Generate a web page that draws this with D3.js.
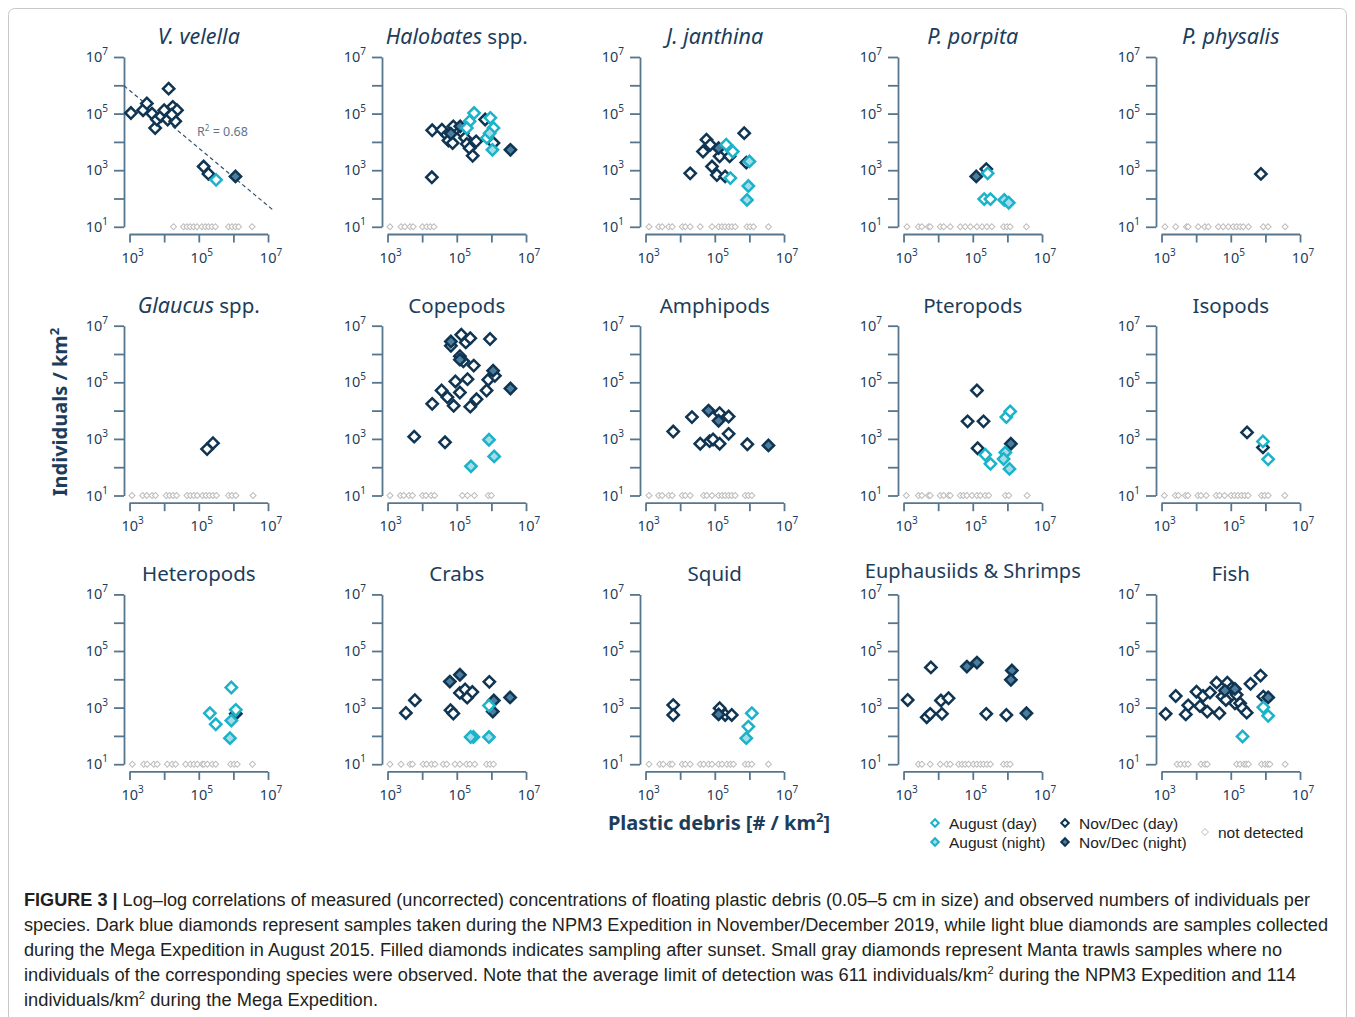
<!DOCTYPE html>
<html><head><meta charset="utf-8">
<script src="https://cdn.jsdelivr.net/npm/d3@7"></script>
<style>body{margin:0;background:#fff}svg{display:block}</style>
</head><body>
<svg id="c" width="1355" height="1017"></svg>
<script>
// ---------- DATA (values stored as log10 exponents: [log10 plastic, log10 individuals]) ----------
const titles = [
  [["V. velella", true]],
  [["Halobates", true], [" spp.", false]],
  [["J. janthina", true]],
  [["P. porpita", true]],
  [["P. physalis", true]],
  [["Glaucus", true], [" spp.", false]],
  [["Copepods", false]],
  [["Amphipods", false]],
  [["Pteropods", false]],
  [["Isopods", false]],
  [["Heteropods", false]],
  [["Crabs", false]],
  [["Squid", false]],
  [["Euphausiids & Shrimps", false]],
  [["Fish", false]]
];
const xTickExps = [3, 4, 5, 6, 7];
const xLabelExps = [3, 5, 7];
const yTickExps = [1, 2, 3, 4, 5, 6, 7];
const yLabelExps = [1, 3, 5, 7];

// Nov/Dec (day): dark open diamonds
const novDay = [
  [[3.04,5.02],[3.39,5.12],[3.50,5.36],[3.65,5.00],[3.74,4.49],[3.79,4.79],[3.91,4.91],[4.00,5.12],[4.13,5.88],[4.10,4.79],[4.25,5.24],[4.32,4.73],[4.37,5.12],[4.22,4.96],[5.14,3.13],[5.28,2.87]],
  [[4.28,2.75],[4.29,4.41],[4.57,4.43],[4.71,4.25],[4.76,4.05],[4.88,3.96],[4.90,4.55],[5.17,4.31],[5.24,4.14],[5.29,3.93],[5.37,3.78],[5.46,3.51],[5.56,4.02],[5.82,4.79],[6.06,3.96]],
  [[4.29,2.89],[4.66,3.66],[4.76,4.08],[4.87,3.90],[4.92,3.13],[5.06,2.83],[5.14,3.49],[5.30,2.78],[5.43,3.49],[5.85,4.31],[5.91,3.27]],
  [[5.39,3.04]],
  [[5.87,2.87]],
  [[5.24,2.64],[5.41,2.85]],
  [[3.77,3.08],[4.29,4.24],[4.56,4.71],[4.73,4.47],[4.91,4.17],[4.96,5.03],[5.09,4.64],[5.13,6.68],[5.26,6.41],[5.39,6.56],[5.31,5.11],[5.49,5.59],[5.39,4.14],[5.57,4.40],[4.66,2.88],[5.86,4.71],[5.96,6.53],[5.91,5.09],[5.09,5.92],[5.19,5.74],[6.10,5.23],[4.83,6.29]],
  [[3.80,3.26],[4.34,3.77],[4.58,2.83],[4.85,2.92],[4.95,2.98],[5.14,2.83],[5.14,3.91],[5.40,3.79],[5.40,3.18],[5.94,2.81]],
  [[5.12,4.71],[4.85,3.62],[5.31,3.62],[5.14,2.67]],
  [[5.47,3.23],[5.93,2.70]],
  [],
  [[3.53,2.81],[3.79,3.26],[4.82,2.91],[4.90,2.79],[5.09,3.52],[5.24,3.64],[5.30,3.35],[5.45,3.55],[5.94,3.91]],
  [[3.80,3.09],[3.80,2.74],[5.14,2.98],[5.30,2.74],[5.49,2.74]],
  [[3.12,3.27],[3.67,2.66],[3.77,2.78],[3.79,4.42],[4.08,3.25],[4.30,3.33],[4.11,2.78],[5.39,2.78],[5.97,2.74]],
  [[3.12,2.78],[3.41,3.41],[3.70,2.76],[3.77,3.08],[4.01,3.56],[4.11,3.05],[4.20,3.41],[4.32,2.86],[4.40,3.53],[4.59,3.88],[4.67,2.80],[4.90,3.88],[4.76,3.39],[4.86,3.27],[5.02,3.68],[5.12,3.15],[5.17,3.45],[5.27,3.15],[5.34,2.98],[5.46,2.82],[5.57,3.84],[5.86,4.13],[5.94,3.39]]
];
// Nov/Dec (night): dark filled diamonds
const novNight = [
  [[6.06,2.78]],
  [[4.83,4.29],[5.10,4.55],[6.55,3.72]],
  [[5.11,3.78]],
  [[5.10,2.78]],
  [],
  [],
  [[4.83,6.44],[5.09,5.80],[6.05,5.41],[6.55,4.78]],
  [[4.82,4.00],[5.11,3.64],[6.55,2.77]],
  [[6.10,2.83]],
  [],
  [[6.07,2.78]],
  [[4.80,3.92],[5.09,4.16],[6.07,3.25],[6.04,2.86],[6.54,3.36]],
  [[5.11,2.76]],
  [[4.83,4.45],[5.12,4.59],[6.13,4.31],[6.10,3.98],[6.55,2.80]],
  [[4.83,3.60],[5.12,3.66],[6.08,3.36]]
];
// August (day): light open diamonds
const augDay = [
  [[5.50,2.66]],
  [[5.50,5.02],[5.37,4.73],[5.29,4.49],[5.97,4.85],[6.06,4.49],[5.87,4.14]],
  [[5.33,3.90],[5.52,3.66],[5.45,2.72]],
  [[5.43,2.89],[5.33,1.98],[5.51,1.98]],
  [], [], [], [],
  [[5.97,3.77],[6.08,3.97],[5.36,2.44],[5.51,2.12]],
  [[5.93,2.91],[6.08,2.28]],
  [[5.94,3.71],[5.32,2.80],[5.49,2.41],[6.07,2.92]],
  [[5.93,3.07],[5.48,1.96]],
  [[6.07,2.80],[5.97,2.33]],
  [],
  [[5.94,3.01],[6.08,2.71],[5.34,1.98]]
];
// August (night): light filled diamonds
const augNight = [
  [],
  [[5.95,4.31],[6.03,3.72]],
  [[6.00,3.31],[5.97,2.44],[5.93,1.95]],
  [[5.91,1.95],[6.04,1.85]],
  [], [],
  [[5.93,2.97],[6.08,2.38],[5.41,2.03]],
  [],
  [[5.94,2.52],[5.89,2.29],[6.06,1.94]],
  [],
  [[5.94,2.54],[5.90,1.92]],
  [[5.40,1.96],[5.93,1.96]],
  [[5.91,1.92]],
  [],
  []
];
// not detected: log10 plastic values (plotted at 10^1)
const notDetected = [
  [4.27,4.56,4.66,4.75,4.85,4.95,5.09,5.19,5.28,5.38,5.48,5.86,5.96,6.06,6.15,6.54],
  [3.07,3.39,3.50,3.65,3.74,4.01,4.13,4.23,4.34],
  [3.10,3.38,3.48,3.67,3.77,4.06,4.15,4.29,4.58,4.92,5.11,5.21,5.30,5.40,5.49,5.59,5.93,6.02,6.12,6.55],
  [3.10,3.43,3.53,3.72,3.77,4.06,4.16,4.35,4.64,4.78,4.93,5.12,5.27,5.41,5.55,5.89,5.99,6.08,6.55],
  [3.10,3.41,3.72,3.77,4.06,4.25,4.35,4.64,4.78,4.93,5.07,5.17,5.27,5.36,5.51,5.94,6.08,6.57],
  [3.07,3.38,3.50,3.65,3.75,4.06,4.16,4.26,4.36,4.66,4.76,4.86,4.96,5.11,5.21,5.31,5.41,5.51,5.86,5.96,6.07,6.57],
  [3.07,3.37,3.47,3.62,3.72,4.01,4.11,4.26,4.36,5.16,5.31,5.51,5.91,6.00],
  [3.10,3.38,3.48,3.67,3.77,4.06,4.15,4.29,4.68,4.77,4.92,5.11,5.21,5.30,5.40,5.49,5.59,5.88,5.97,6.07],
  [3.08,3.43,3.53,3.72,3.77,4.06,4.16,4.30,4.35,4.64,4.73,4.83,4.98,5.12,5.22,5.36,5.46,5.94,6.04,6.57],
  [3.08,3.40,3.49,3.69,3.76,4.05,4.14,4.29,4.58,4.68,4.82,5.01,5.11,5.21,5.31,5.40,5.50,5.89,5.98,6.08,6.56],
  [3.08,3.41,3.51,3.70,3.80,4.09,4.23,4.33,4.62,4.76,4.86,4.96,5.10,5.15,5.25,5.39,5.49,5.92,6.02,6.11,6.55],
  [3.07,3.39,3.65,3.72,4.03,4.13,4.27,4.37,4.61,4.71,4.95,5.09,5.28,5.38,5.52,5.86,5.96,6.06],
  [3.10,3.41,3.51,3.70,3.77,4.06,4.15,4.29,4.58,4.68,4.82,4.92,5.11,5.21,5.35,5.45,5.54,5.88,5.97,6.07,6.55],
  [3.43,3.53,3.77,4.06,4.25,4.35,4.59,4.69,4.78,4.88,5.02,5.12,5.22,5.31,5.41,5.51,5.89,5.99,6.08],
  [3.45,3.55,3.67,3.77,4.14,4.25,4.32,5.17,5.27,5.38,5.44,5.51,5.89,5.99,6.07,6.13,6.57]
];
// V. velella regression (log10 space)
const regression = { slope: -1.02, intercept: 8.88, from: 2.84, to: 7.16, label: "0.68" };

const captionLines = [
  "Log\u2013log correlations of measured (uncorrected) concentrations of floating plastic debris (0.05\u20135 cm in size) and observed numbers of individuals per",
  "species. Dark blue diamonds represent samples taken during the NPM3 Expedition in November/December 2019, while light blue diamonds are samples collected",
  "during the Mega Expedition in August 2015. Filled diamonds indicates sampling after sunset. Small gray diamonds represent Manta trawls samples where no",
  "individuals of the corresponding species were observed. Note that the average limit of detection was 611 individuals/km| during the NPM3 Expedition and 114",
  "individuals/km| during the Mega Expedition."
];

// ---------- DRAWING ----------
const svg = d3.select("#c");
const FONT = "'Noto Sans', sans-serif";
const CAPFONT = "'Liberation Sans', Arial, sans-serif";
const cNavy = "#0f3553", cNavyFill = "#4c7d9c", cCyan = "#1ab3ca", cCyanFill = "#a5dce7",
      cAxis = "#56768e", cText = "#1c3d5b", cGray = "#bdbdbd";

svg.append("rect").attr("x", 8.5).attr("y", 8.5).attr("width", 1338).attr("height", 1030)
  .attr("rx", 6).attr("fill", "none").attr("stroke", "#c9c9c9").attr("stroke-width", 1);

const colX0 = 124, colStep = 258, rowY0 = 57, rowStep = 268.7, yLen = 169.8, decX = 34.62;
const big = d3.symbol(d3.symbolSquare, 64)();
const small = d3.symbol(d3.symbolSquare, 18)();

function supText(sel, base, exp, size, supSize, lift) {
  sel.append("tspan").text(base);
  sel.append("tspan").attr("dy", -lift).attr("font-size", supSize).text(exp);
}

titles.forEach((t, i) => {
  const col = i % 5, row = Math.floor(i / 5);
  const ax = colX0 + col * colStep, top = rowY0 + row * rowStep;
  const x = d3.scaleLog().domain([10 ** 2.84, 1e7]).range([ax, ax + decX * 4.16]);
  const y = d3.scaleLog().domain([10, 1e7]).range([top + yLen, top]);
  const g = svg.append("g");

  // title (the long one is nudged up so it clears the 10^7 label)
  const long = t.map(d => d[0]).join("").length > 16;
  const tt = g.append("text").attr("x", (x(1e3) + x(1e7)) / 2).attr("y", top - (long ? 16.5 : 13))
    .attr("text-anchor", "middle").attr("font-family", FONT).attr("font-size", 20.5).attr("fill", cText);
  t.forEach(([s, it]) => tt.append("tspan").attr("font-style", it ? "italic" : "normal")
    .attr("font-size", it ? 21.5 : (long ? 20 : 20.5)).text(s));

  // y axis
  const ya = g.append("g").attr("transform", `translate(${ax},0)`)
    .call(d3.axisLeft(y).tickValues(yTickExps.map(e => 10 ** e)).tickSize(10).tickSizeOuter(0).tickFormat(() => ""));
  ya.select(".domain").attr("stroke", cAxis).attr("stroke-width", 1.8);
  ya.selectAll(".tick line").attr("stroke", cAxis).attr("stroke-width", 1.8);
  yLabelExps.forEach(e => {
    const tx = g.append("text").attr("x", ax - 16).attr("y", y(10 ** e) + 5)
      .attr("text-anchor", "end").attr("font-family", FONT).attr("font-size", 14.5).attr("fill", cText);
    supText(tx, "10", e, 14.5, 10, 7);
  });

  // x axis
  const xy = top + yLen + 7.7;
  const xa = g.append("g").attr("transform", `translate(0,${xy})`)
    .call(d3.axisBottom(x).tickValues(xTickExps.map(e => 10 ** e)).tickSize(8).tickFormat(() => ""));
  xa.select(".domain").remove();
  xa.selectAll(".tick line").attr("stroke", cAxis).attr("stroke-width", 1.8);
  g.append("line").attr("x1", x(1e3)).attr("x2", x(1e7)).attr("y1", xy).attr("y2", xy)
    .attr("stroke", cAxis).attr("stroke-width", 1.8);
  xLabelExps.forEach(e => {
    const tx = g.append("text").attr("x", x(10 ** e) + 3).attr("y", xy + 28)
      .attr("text-anchor", "middle").attr("font-family", FONT).attr("font-size", 14.5).attr("fill", cText);
    supText(tx, "10", e, 14.5, 10, 7);
  });

  // regression for first panel
  if (i === 0) {
    const r = regression;
    g.append("line")
      .attr("x1", x(10 ** r.from)).attr("y1", y(10 ** (r.intercept + r.slope * r.from)))
      .attr("x2", x(10 ** r.to)).attr("y2", y(10 ** (r.intercept + r.slope * r.to)))
      .attr("stroke", "#2e5270").attr("stroke-width", 1.2).attr("stroke-dasharray", "4,3");
    const lt = g.append("text").attr("x", x(10 ** 4.95)).attr("y", y(10 ** 4.22))
      .attr("font-family", FONT).attr("font-size", 12.5).attr("fill", "#5c778c");
    lt.append("tspan").text("R");
    lt.append("tspan").attr("dy", -5).attr("font-size", 8).text("2");
    lt.append("tspan").attr("dy", 5).text(" = " + r.label);
  }

  // not detected
  g.append("g").selectAll("path").data(notDetected[i]).join("path")
    .attr("d", small)
    .attr("transform", d => `translate(${x(10 ** d)},${y(10)}) rotate(45)`)
    .attr("fill", "#fff").attr("stroke", cGray).attr("stroke-width", 1);

  const series = [
    [novDay[i], "#fff", cNavy],
    [novNight[i], cNavyFill, cNavy],
    [augDay[i], "#fff", cCyan],
    [augNight[i], cCyanFill, cCyan]
  ];
  series.forEach(([arr, fill, stroke]) => {
    g.append("g").selectAll("path").data(arr).join("path")
      .attr("d", big)
      .attr("transform", d => `translate(${x(10 ** d[0])},${y(10 ** d[1])}) rotate(45)`)
      .attr("fill", fill).attr("stroke", stroke).attr("stroke-width", 2.5);
  });
});

// axis titles
const yt = svg.append("text").attr("transform", "translate(67,412) rotate(-90)")
  .attr("text-anchor", "middle").attr("font-family", FONT).attr("font-weight", "bold")
  .attr("font-size", 20).attr("fill", cText);
supText(yt, "Individuals / km", "2", 20, 13, 8);
const xt = svg.append("text").attr("x", 719).attr("y", 830)
  .attr("text-anchor", "middle").attr("font-family", FONT).attr("font-weight", "bold")
  .attr("font-size", 20).attr("fill", cText);
xt.append("tspan").text("Plastic debris [# / km");
xt.append("tspan").attr("dy", -8).attr("font-size", 13).text("2");
xt.append("tspan").attr("dy", 8).text("]");

// legend
const legend = [
  { x: 935, y: 823, fill: "#fff", stroke: cCyan, label: "August (day)" },
  { x: 935, y: 842, fill: cCyanFill, stroke: cCyan, label: "August (night)" },
  { x: 1065, y: 823, fill: "#fff", stroke: cNavy, label: "Nov/Dec (day)" },
  { x: 1065, y: 842, fill: cNavyFill, stroke: cNavy, label: "Nov/Dec (night)" }
];
const lg = svg.append("g");
legend.forEach(l => {
  lg.append("path").attr("d", d3.symbol(d3.symbolSquare, 28)())
    .attr("transform", `translate(${l.x},${l.y}) rotate(45)`)
    .attr("fill", l.fill).attr("stroke", l.stroke).attr("stroke-width", 2);
  lg.append("text").attr("x", l.x + 14).attr("y", l.y + 5.5).attr("font-family", CAPFONT)
    .attr("font-size", 15.5).attr("fill", "#222").text(l.label);
});
lg.append("path").attr("d", d3.symbol(d3.symbolSquare, 24)())
  .attr("transform", "translate(1205,832) rotate(45)")
  .attr("fill", "#fff").attr("stroke", "#d0d0d0").attr("stroke-width", 1);
lg.append("text").attr("x", 1218).attr("y", 837.5).attr("font-family", CAPFONT)
  .attr("font-size", 15.5).attr("fill", "#222").text("not detected");

// caption
const capW = [1286, 1304, 1258, 1272, 354];
captionLines.forEach((line, k) => {
  const t = svg.append("text").attr("x", 24).attr("y", 906 + k * 25)
    .attr("font-family", CAPFONT).attr("font-size", 18).attr("fill", "#231f20")
    .attr("textLength", capW[k]).attr("lengthAdjust", "spacingAndGlyphs");
  if (k === 0) t.append("tspan").attr("font-weight", "bold").text("FIGURE 3 | ");
  const parts = line.split("|");
  parts.forEach((p, j) => {
    if (j > 0) t.append("tspan").attr("dy", -7).attr("font-size", 11).text("2");
    t.append("tspan").attr("dy", j > 0 ? 7 : null).text(p);
  });
});
</script>
</body></html>
